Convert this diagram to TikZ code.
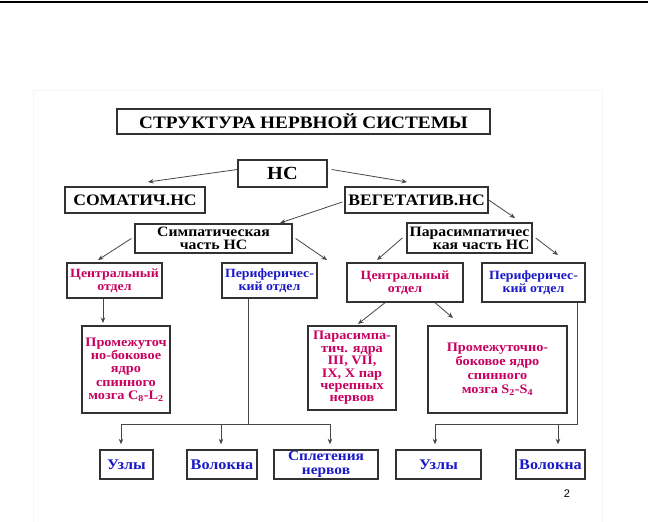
\documentclass[tikz,border=0pt]{standalone}
\usepackage{fontspec}
\setmainfont{Liberation Serif}[FakeStretch=1.1]
\newfontfamily\pagenumfont{Liberation Sans}
\usetikzlibrary{arrows.meta,calc}
\definecolor{magentared}{RGB}{200,0,95}
\definecolor{deepblue}{RGB}{25,25,200}
\definecolor{boxline}{RGB}{50,50,50}
\definecolor{conline}{RGB}{70,70,70}
\tikzset{
  box/.style={draw=boxline,line width=1.4pt,fill=white,inner sep=1pt,align=center,font=\bfseries},
  arr/.style={draw=conline,line width=0.8pt,-{Stealth[length=5.5pt,width=4.5pt]}},
  ln/.style={draw=conline,line width=0.8pt},
  fs/.style={font=\bfseries\fontsize{#1}{#1}\selectfont},
  red/.style={text=magentared},
  blu/.style={text=deepblue}
}
\begin{document}
\begin{tikzpicture}[x=1pt,y=-1pt]
\useasboundingbox (0,0) rectangle (648,522);
% top rule and faint slide border
\draw[line width=1.5pt] (0,2) -- (648,2);
\draw[black!4,line width=0.8pt] (33,522) -- (33,90) -- (602,90) -- (602,522);
% boxes
\node[box,fs=17.5,minimum width=373pt,minimum height=25pt,line width=1.1pt] (title) at (303.5,121.5) {СТРУКТУРА НЕРВНОЙ СИСТЕМЫ};
\node[box,fs=18.5,minimum width=89pt,minimum height=27pt] (ns) at (282.5,173.5) {НС};
\node[box,fs=16,minimum width=140pt,minimum height=26pt] (som) at (135,200) {СОМАТИЧ.НС};
\node[box,fs=16,minimum width=143pt,minimum height=26pt] (veg) at (416.5,200) {ВЕГЕТАТИВ.НС};
\node[box,font=\bfseries\fontsize{14.3}{13}\selectfont,minimum width=157pt,minimum height=29pt] (symp) at (213.5,238.5) {Симпатическая\\часть НС};
\node[box,font=\bfseries\fontsize{14.3}{13}\selectfont,align=right,minimum width=125pt,minimum height=30pt] (para) at (469.5,238) {Парасимпатичес\\кая часть НС};
\node[box,red,font=\bfseries\fontsize{12.6}{13}\selectfont,minimum width=95pt,minimum height=35pt] (c1) at (114.5,280.5) {Центральный\\отдел};
\node[box,blu,font=\bfseries\fontsize{12.6}{13}\selectfont,minimum width=95pt,minimum height=35pt] (p1) at (269.5,280.5) {Периферичес-\\кий отдел};
\node[box,red,font=\bfseries\fontsize{12.6}{13}\selectfont,minimum width=116pt,minimum height=39pt] (c2) at (405,282.5) {Центральный\\отдел};
\node[box,blu,font=\bfseries\fontsize{12.6}{13}\selectfont,minimum width=103pt,minimum height=39pt] (p2) at (533.5,282.5) {Периферичес-\\кий отдел};
\node[box,red,font=\bfseries\fontsize{13}{13.3}\selectfont,minimum width=88pt,minimum height=87pt] (n1) at (126,369.5) {Промежуточ\\но-боковое\\ядро\\спинного\\мозга C\textsubscript{8}-L\textsubscript{2}};
\node[box,red,font=\bfseries\fontsize{13}{12.4}\selectfont,minimum width=88pt,minimum height=84pt] (n2) at (352,368) {Парасимпа-\\тич. ядра\\III, VII,\\IX, X пар\\черепных\\нервов};
\node[box,red,font=\bfseries\fontsize{13}{14}\selectfont,minimum width=139pt,minimum height=87pt] (n3) at (497.5,369.5) {Промежуточно-\\боковое ядро\\спинного\\мозга S\textsubscript{2}-S\textsubscript{4}};
\node[box,blu,fs=14.7,minimum width=53pt,minimum height=29pt] (b1) at (126.5,464.5) {Узлы};
\node[box,blu,fs=14.7,minimum width=70pt,minimum height=29pt] (b2) at (222,464.5) {Волокна};
\node[box,blu,font=\bfseries\fontsize{14}{13.5}\selectfont,inner sep=0pt,minimum width=104pt,minimum height=29pt] (b3) at (326,464.5) {Сплетения\\нервов};
\node[box,blu,fs=14.7,minimum width=85pt,minimum height=29pt] (b4) at (438.5,464.5) {Узлы};
\node[box,blu,fs=14.7,minimum width=69pt,minimum height=29pt] (b5) at (550.5,464.5) {Волокна};
\node[font=\pagenumfont\fontsize{11}{11}\selectfont] (pg) at (567,494) {2};
% arrow tips and junctions
\coordinate (tsom) at (148,182);
\coordinate (tveg) at (407,182);
\coordinate (tsymp) at (280,223);
\coordinate (tpara) at (515,218);
\coordinate (tc1) at (98,260);
\coordinate (tp1) at (327,260);
\coordinate (tc2) at (377,260);
\coordinate (tp2) at (558,255);
\coordinate (tn1) at (103,323);
\coordinate (tn2) at (358,324);
\coordinate (tn3) at (453,318);
\coordinate (jp1) at (248,424);
\coordinate (jp2) at (577,424);
\coordinate (hl) at (121,424);
\coordinate (hm) at (221,424);
\coordinate (hr) at (330,424);
\coordinate (hl2) at (435,424);
\coordinate (hm2) at (558,424);
% connectors
\draw[arr] ($(ns.west)+(0,-4)$) -- (tsom);
\draw[arr] ($(ns.east)+(4,-4)$) -- (tveg);
\draw[arr] ($(veg.west)+(-2,2)$) -- (tsymp);
\draw[arr] (veg.east) -- (tpara);
\draw[arr] ($(symp.west)+(-3,0)$) -- (tc1);
\draw[arr] ($(symp.east)+(3,0)$) -- (tp1);
\draw[arr] ($(para.west)+(-4,0)$) -- (tc2);
\draw[arr] ($(para.east)+(3,0)$) -- (tp2);
\draw[arr] (c1.south -| tn1) -- (tn1);
\draw[arr] ($(c2.south)+(-20,0)$) -- (tn2);
\draw[arr] ($(c2.south)+(30,0)$) -- (tn3);
\draw[ln] (p1.south -| jp1) -- (jp1);
\draw[ln] (hl) -- (hr);
\draw[arr] (hl) -- ($(b1.north -| hl)+(0,-5)$);
\draw[arr] (hm) -- ($(b2.north -| hm)+(0,-5)$);
\draw[arr] (hr) -- ($(b3.north -| hr)+(0,-5)$);
\draw[ln] (p2.south -| jp2) -- (jp2) -- (hl2);
\draw[arr] (hl2) -- ($(b4.north -| hl2)+(0,-5)$);
\draw[arr] (hm2) -- ($(b5.north -| hm2)+(0,-5)$);
\end{tikzpicture}
\end{document}
